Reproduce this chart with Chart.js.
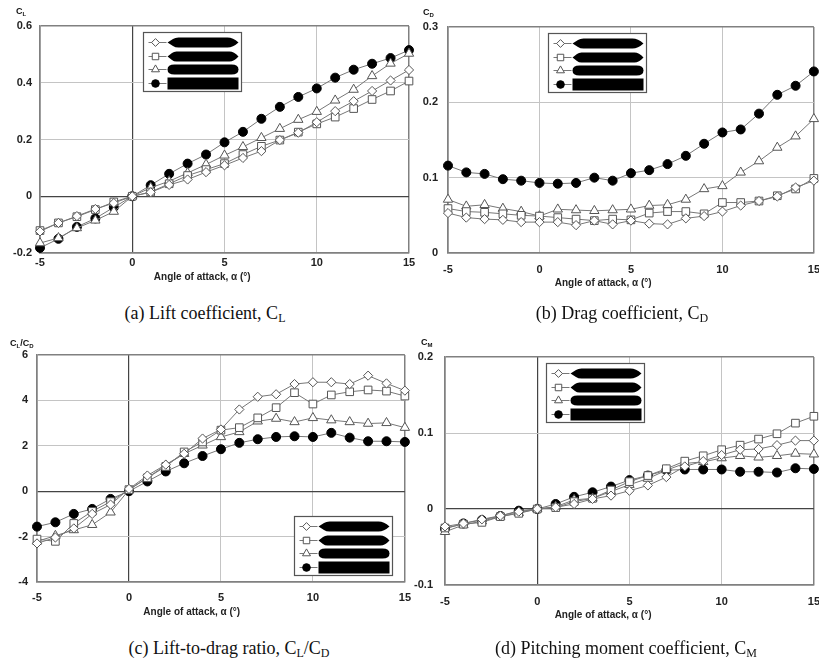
<!DOCTYPE html>
<html><head><meta charset="utf-8">
<script src="https://cdn.jsdelivr.net/npm/chart.js@4/dist/chart.umd.min.js"></script>
<style>
html,body{margin:0;padding:0;background:#fff;width:819px;height:663px;overflow:hidden;position:relative;}
.wrap{position:absolute;}
.cap{position:absolute;font-family:"Liberation Serif","Times New Roman",serif;font-size:18px;color:#111;white-space:nowrap;transform:translateX(-50%);line-height:20px;}
.cap sub{font-size:12px;vertical-align:-3px;line-height:0;}
.yl{position:absolute;font-family:"Liberation Sans",Arial,sans-serif;font-weight:bold;font-size:9px;color:#111;white-space:nowrap;line-height:11px;}
.yl sub{font-size:6px;vertical-align:-2px;line-height:0;}
</style></head>
<body>
<div class="wrap" style="left:0;top:0;width:420px;height:293px"><canvas id="cA"></canvas></div>
<div class="wrap" style="left:405px;top:0;width:425px;height:293px"><canvas id="cB"></canvas></div>
<div class="wrap" style="left:0;top:330px;width:420px;height:292px"><canvas id="cC"></canvas></div>
<div class="wrap" style="left:405px;top:330px;width:425px;height:295px"><canvas id="cD"></canvas></div>

<div class="yl" style="left:16px;top:6px">C<sub>L</sub></div>
<div class="yl" style="left:423px;top:7px">C<sub>D</sub></div>
<div class="yl" style="left:10px;top:338px">C<sub>L</sub>/C<sub>D</sub></div>
<div class="yl" style="left:421px;top:337px">C<sub>M</sub></div>

<div class="cap" style="left:205px;top:303px">(a) Lift coefficient, C<sub>L</sub></div>
<div class="cap" style="left:622px;top:303px">(b) Drag coefficient, C<sub>D</sub></div>
<div class="cap" style="left:229px;top:638px">(c) Lift-to-drag ratio, C<sub>L</sub>/C<sub>D</sub></div>
<div class="cap" style="left:626px;top:638px">(d) Pitching moment coefficient, C<sub>M</sub></div>

<script>
// ---------- data ----------
const alpha = [-5,-4,-3,-2,-1,0,1,2,3,4,5,6,7,8,9,10,11,12,13,14,15];
const seriesNames = ["Hull 1","Hull 2","Hull 3","Hull 4"];
const xTicks = [-5,0,5,10,15];
const xTitle = "Angle of attack, \u03b1 (\u00b0)";

// (a) lift coefficient
const clHull1 = [-0.124,-0.094,-0.070,-0.045,-0.024,0,0.014,0.040,0.059,0.085,0.109,0.135,0.159,0.198,0.224,0.261,0.300,0.335,0.371,0.408,0.445];
const clHull2 = [-0.121,-0.094,-0.072,-0.047,-0.020,0,0.015,0.044,0.073,0.094,0.115,0.147,0.176,0.198,0.226,0.255,0.279,0.309,0.341,0.371,0.406];
const clHull3 = [-0.165,-0.147,-0.112,-0.085,-0.054,0,0.030,0.053,0.082,0.112,0.144,0.174,0.206,0.238,0.270,0.298,0.338,0.376,0.424,0.468,0.503];
const clHull4 = [-0.182,-0.150,-0.108,-0.078,-0.039,0,0.039,0.079,0.115,0.147,0.190,0.227,0.273,0.315,0.350,0.380,0.418,0.446,0.467,0.487,0.515];
const clTicks = [-0.2,0,0.2,0.4,0.6];

// (b) drag coefficient
const cdHull1 = [0.053,0.047,0.045,0.044,0.041,0.041,0.041,0.037,0.043,0.038,0.043,0.039,0.038,0.046,0.049,0.055,0.063,0.069,0.075,0.087,0.096];
const cdHull2 = [0.059,0.055,0.054,0.052,0.050,0.049,0.047,0.045,0.043,0.045,0.044,0.053,0.055,0.055,0.052,0.067,0.067,0.069,0.076,0.085,0.099];
const cdHull3 = [0.071,0.062,0.064,0.059,0.055,0.049,0.058,0.057,0.056,0.057,0.058,0.063,0.064,0.071,0.085,0.089,0.107,0.122,0.140,0.155,0.178];
const cdHull4 = [0.116,0.107,0.105,0.098,0.096,0.093,0.092,0.093,0.100,0.096,0.106,0.110,0.118,0.129,0.145,0.160,0.164,0.185,0.210,0.222,0.241];
const cdTicks = [0,0.1,0.2,0.3];

// (c) lift-to-drag ratio
const ldHull1 = [-2.30,-2.04,-1.64,-1.00,-0.59,0.10,0.69,1.17,1.65,2.32,2.72,3.60,4.16,4.27,4.72,4.80,4.80,4.72,5.09,4.75,4.43];
const ldHull2 = [-2.11,-2.21,-1.42,-0.89,-0.46,0.07,0.59,1.09,1.73,2.17,2.69,2.80,3.23,3.68,4.34,3.84,4.24,4.38,4.46,4.41,4.19];
const ldHull3 = [-2.21,-1.96,-1.71,-1.48,-0.93,0.06,0.59,1.14,1.65,2.02,2.39,2.61,3.08,3.20,3.05,3.23,3.13,3.05,2.98,3.01,2.80];
const ldHull4 = [-1.56,-1.37,-1.00,-0.78,-0.34,0,0.43,0.87,1.23,1.55,1.85,2.13,2.29,2.39,2.42,2.39,2.57,2.36,2.20,2.20,2.17];
const ldTicks = [-4,-2,0,2,4,6];

// (d) pitching moment coefficient
const cmHull1 = [-0.023,-0.019,-0.0136,-0.0088,-0.0035,0,0.0022,0.0066,0.0132,0.0176,0.024,0.031,0.042,0.056,0.063,0.071,0.078,0.079,0.084,0.090,0.090];
const cmHull2 = [-0.025,-0.020,-0.0176,-0.010,-0.0057,0,0.0018,0.0097,0.014,0.025,0.036,0.044,0.053,0.063,0.070,0.078,0.084,0.092,0.099,0.113,0.122];
const cmHull3 = [-0.030,-0.021,-0.016,-0.010,-0.005,0,0.003,0.012,0.014,0.023,0.032,0.040,0.051,0.060,0.062,0.067,0.070,0.068,0.070,0.073,0.072];
const cmHull4 = [-0.026,-0.019,-0.0145,-0.0092,-0.0022,0,0.0066,0.016,0.022,0.0295,0.038,0.044,0.051,0.052,0.052,0.052,0.049,0.049,0.048,0.0536,0.0527];
const cmTicks = [-0.1,0,0.1,0.2];

// ---------- styling ----------
const markerStyles = [
  {pointStyle:'rectRot', radius:4.6, bg:'#fff', border:'#555'},
  {pointStyle:'rect', radius:5.4, bg:'#fff', border:'#555'},
  {pointStyle:'triangle', radius:5.4, bg:'#fff', border:'#555'},
  {pointStyle:'circle', radius:4.5, bg:'#000', border:'#000'}
];
const hullKinds = ['pointed','pointed2','round','rect'];

function hullShape(ctx,x,y,w,h,kind){
  ctx.beginPath();
  if(kind==='rect'){ ctx.rect(x,y-1,w,h+2); }
  else if(kind==='round'){
    const r=h/2;
    ctx.moveTo(x+r+2,y); ctx.lineTo(x+w-r-2,y);
    ctx.quadraticCurveTo(x+w,y,x+w,y+r);
    ctx.quadraticCurveTo(x+w,y+h,x+w-r-2,y+h);
    ctx.lineTo(x+r+2,y+h);
    ctx.quadraticCurveTo(x,y+h,x,y+r);
    ctx.quadraticCurveTo(x,y,x+r+2,y);
  } else {
    const t = kind==='pointed' ? h*1.1 : h*0.9;
    ctx.moveTo(x,y+h/2);
    ctx.lineTo(x+t*0.5,y+h*0.15);
    ctx.quadraticCurveTo(x+t*0.7,y,x+t,y);
    ctx.lineTo(x+w-t,y);
    ctx.quadraticCurveTo(x+w-t*0.5,y,x+w,y+h/2);
    ctx.quadraticCurveTo(x+w-t*0.5,y+h,x+w-t,y+h);
    ctx.lineTo(x+t,y+h);
    ctx.quadraticCurveTo(x+t*0.7,y+h,x+t*0.5,y+h*0.85);
    ctx.lineTo(x,y+h/2);
  }
  ctx.closePath();
  ctx.fillStyle='#000';
  ctx.fill();
}

const hullLegend = {
  id:'hullLegend',
  afterDatasetsDraw(chart, args, o){
    if(!o || o.fx===undefined) return;
    const ca=chart.chartArea, ctx=chart.ctx;
    const x0=Math.round(ca.left+o.fx*(ca.right-ca.left))+0.5;
    const y0=Math.round(ca.top+o.fy*(ca.bottom-ca.top))+0.5;
    const W=98,H=59;
    ctx.save();
    ctx.fillStyle='#fff'; ctx.fillRect(x0,y0,W,H);
    ctx.strokeStyle='#555'; ctx.lineWidth=1.2; ctx.strokeRect(x0,y0,W,H);
    const rows=[10,24,37,51];
    chart.data.datasets.forEach((ds,i)=>{
      const yy=y0+rows[i];
      ctx.strokeStyle='#777'; ctx.lineWidth=1;
      ctx.beginPath(); ctx.moveTo(x0+5,yy); ctx.lineTo(x0+23,yy); ctx.stroke();
      const m=markerStyles[i];
      ctx.fillStyle=m.bg; ctx.strokeStyle=m.border; ctx.lineWidth=1;
      Chart.helpers.drawPoint(ctx,{pointStyle:m.pointStyle,rotation:0,radius:m.radius*0.85,borderWidth:1},x0+12,yy);
      hullShape(ctx,x0+24,yy-5,71,10,hullKinds[i]);
    });
    ctx.restore();
  }
};
Chart.register(hullLegend);

function gridColor(min,max,darkZero){
  return (c)=>{
    const v=c.tick.value;
    if(v===min||v===max) return '#808080';
    if(v===0&&darkZero) return '#444';
    return '#c4c4c4';
  };
}
function gridWidth(min,max,darkZero){
  return (c)=>{
    const v=c.tick.value;
    if(v===min||v===max) return 1.5;
    if(v===0&&darkZero) return 1.2;
    return 1;
  };
}

function makeChart(id, values, yTicks, L){
  const datasets = values.map((vals,i)=>({
    label: seriesNames[i],
    data: alpha.map((a,j)=>({x:a,y:vals[j]})),
    borderColor:'#777',
    borderWidth:1,
    pointStyle:markerStyles[i].pointStyle,
    pointRadius:markerStyles[i].radius,
    pointBackgroundColor:markerStyles[i].bg,
    pointBorderColor:markerStyles[i].border,
    pointBorderWidth:1,
    tension:0,
    fill:false,
    clip:false
  }));
  const xmin=xTicks[0], xmax=xTicks[xTicks.length-1];
  const ymin=yTicks[0], ymax=yTicks[yTicks.length-1];
  const tickFont={family:'"Liberation Sans", Arial, sans-serif',size:11,weight:'bold'};
  return new Chart(document.getElementById(id),{
    type:'line',
    data:{datasets},
    options:{
      responsive:true, maintainAspectRatio:false, animation:false,
      layout:{padding:{top:L.padTop,right:L.padRight,left:0,bottom:0}},
      plugins:{legend:{display:false},tooltip:{enabled:false},hullLegend:{fx:L.fx,fy:L.fy}},
      scales:{
        x:{type:'linear',min:xmin,max:xmax,
          afterBuildTicks:(s)=>{s.ticks=xTicks.map(v=>({value:v}));},
          afterFit:(s)=>{s.height=40;},
          grid:{drawTicks:false,color:gridColor(xmin,xmax,L.darkZeroX),lineWidth:gridWidth(xmin,xmax,L.darkZeroX)},
          border:{display:true,color:'#808080',width:1.5},
          ticks:{padding:L.xPad,color:'#222',font:tickFont,maxRotation:0,autoSkip:false,callback:(v)=>String(v)},
          title:{display:true,text:xTitle+'\u00a0'.repeat(L.titleShift),color:'#222',
            font:{family:'"Liberation Sans", Arial, sans-serif',size:10,weight:'bold'},padding:{top:0,bottom:L.titlePb}}
        },
        y:{type:'linear',min:ymin,max:ymax,
          afterBuildTicks:(s)=>{s.ticks=yTicks.map(v=>({value:v}));},
          afterFit:(s)=>{s.width=L.yW;},
          grid:{drawTicks:false,color:gridColor(ymin,ymax,true),lineWidth:gridWidth(ymin,ymax,true)},
          border:{display:true,color:'#808080',width:1.5},
          ticks:{padding:L.yPad,color:'#222',font:tickFont,autoSkip:false,callback:(v)=>String(v)}
        }
      }
    }
  });
}

makeChart('cA',[clHull1,clHull2,clHull3,clHull4],clTicks,
  {padTop:26,padRight:11,yW:40,yPad:8,xPad:3,titlePb:10,titleShift:16,fx:0.279,fy:0.026,darkZeroX:true});
makeChart('cB',[cdHull1,cdHull2,cdHull3,cdHull4],cdTicks,
  {padTop:27,padRight:15,yW:43,yPad:10,xPad:10,titlePb:4,titleShift:20,fx:0.272,fy:0.027,darkZeroX:false});
makeChart('cC',[ldHull1,ldHull2,ldHull3,ldHull4],ldTicks,
  {padTop:25,padRight:14,yW:37,yPad:9,xPad:9,titlePb:4,titleShift:21,fx:0.699,fy:0.709,darkZeroX:true});
makeChart('cD',[cmHull1,cmHull2,cmHull3,cmHull4],cmTicks,
  {padTop:27,padRight:15,yW:40,yPad:12,xPad:10,titlePb:4,titleShift:19,fx:0.273,fy:0.026,darkZeroX:true});
</script>
</body></html>
